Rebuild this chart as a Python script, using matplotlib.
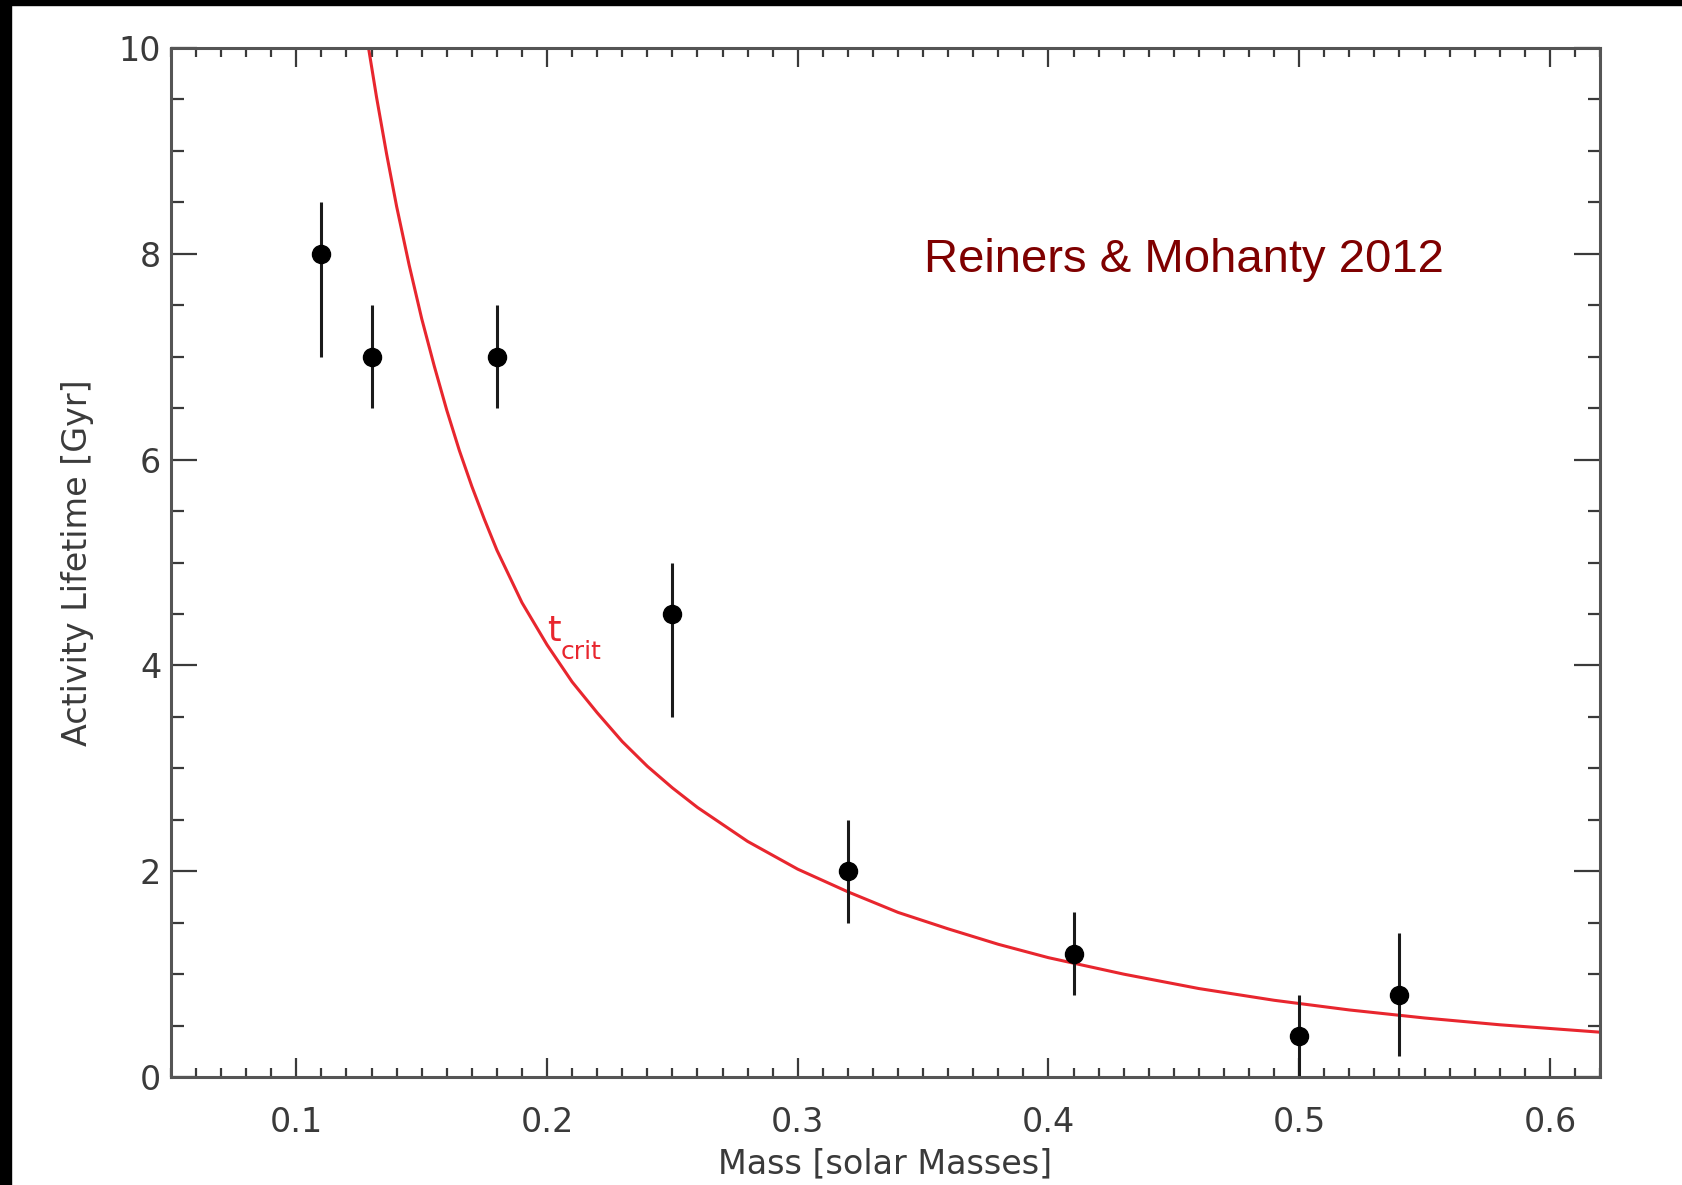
import numpy as np
import matplotlib
matplotlib.use("Agg")
import matplotlib.pyplot as plt
from matplotlib.patches import Rectangle
from matplotlib.ticker import MultipleLocator

# punkty pomiarowe
masa = [0.11, 0.13, 0.18, 0.25, 0.32, 0.41, 0.50, 0.54]
czas = [8.0, 7.0, 7.0, 4.5, 2.0, 1.2, 0.4, 0.8]
blad_dol = [1.0, 0.5, 0.5, 1.0, 0.5, 0.4, 0.4, 0.6]
blad_gora = [0.5, 0.5, 0.5, 0.5, 0.5, 0.4, 0.4, 0.6]

# krzywa t_crit
t_masa = [0.1288, 0.132, 0.136, 0.14, 0.145, 0.15, 0.155, 0.16, 0.165, 0.17,
          0.175, 0.18, 0.19, 0.20, 0.21, 0.22, 0.23, 0.24, 0.25, 0.26,
          0.28, 0.30, 0.32, 0.34, 0.36, 0.38, 0.40, 0.43, 0.46, 0.49,
          0.52, 0.55, 0.58, 0.62]
t_crit = [10.0, 9.52, 8.97, 8.46, 7.89, 7.37, 6.91, 6.48, 6.09, 5.74,
          5.42, 5.12, 4.61, 4.20, 3.84, 3.54, 3.26, 3.02, 2.81, 2.62,
          2.29, 2.02, 1.80, 1.60, 1.44, 1.29, 1.16, 1.00, 0.86, 0.746,
          0.652, 0.574, 0.508, 0.436]

szary = "#3a3a3a"
czerwony = "#e8262e"

fig = plt.figure(figsize=(16.83, 11.85), dpi=100)
ax = fig.add_axes([0.1016, 0.0911, 0.8491, 0.8684])

# krzywa
ax.plot(t_masa, t_crit, color=czerwony, lw=2.2)
ax.text(0.2000, 4.24, "t", color=czerwony, fontsize=25)
ax.text(0.2055, 4.06, "crit", color=czerwony, fontsize=18)

# punkty z bledami
ax.errorbar(masa, czas, yerr=[blad_dol, blad_gora], fmt="o", color="black",
            ecolor="#1a1a1a", elinewidth=2.2, markersize=13, capsize=0)

ax.text(0.454, 7.82, "Reiners & Mohanty 2012", color="#7f0000",
        fontsize=34, family="Liberation Sans", ha="center", va="baseline")

ax.set_xlim(0.05, 0.62)
ax.set_ylim(0, 10)
ax.xaxis.set_major_locator(MultipleLocator(0.1))
ax.xaxis.set_minor_locator(MultipleLocator(0.01))
ax.yaxis.set_major_locator(MultipleLocator(2))
ax.yaxis.set_minor_locator(MultipleLocator(0.5))
ax.set_xticks([0.1, 0.2, 0.3, 0.4, 0.5, 0.6])
ax.set_xticklabels(["0.1", "0.2", "0.3", "0.4", "0.5", "0.6"])

ax.tick_params(axis="x", which="major", direction="in", length=14, width=1.6,
               top=True, labelsize=24, labelcolor=szary, pad=21, color=szary)
ax.tick_params(axis="x", which="minor", direction="in", length=6.5, width=1.6,
               top=True, color=szary)
ax.tick_params(axis="y", which="major", direction="in", length=19, width=1.6,
               right=True, labelsize=24, labelcolor=szary, pad=7, color=szary)
ax.tick_params(axis="y", which="minor", direction="in", length=9, width=1.6,
               right=True, color=szary)
for s in ax.spines.values():
    s.set_color("#555555")
    s.set_linewidth(2.2)

ax.set_xlabel("Mass [solar Masses]", fontsize=24, color=szary, labelpad=6)
ax.set_ylabel("Activity Lifetime [Gyr]", fontsize=24, color=szary, labelpad=18)

# czarne paski na brzegach
fig.patches.append(Rectangle((0, 0), 11 / 1683, 1, transform=fig.transFigure,
                             color="black", zorder=10))
fig.patches.append(Rectangle((0, 1 - 5 / 1185), 1, 5 / 1185,
                             transform=fig.transFigure, color="black", zorder=10))

fig.savefig("out.png", dpi=100)
